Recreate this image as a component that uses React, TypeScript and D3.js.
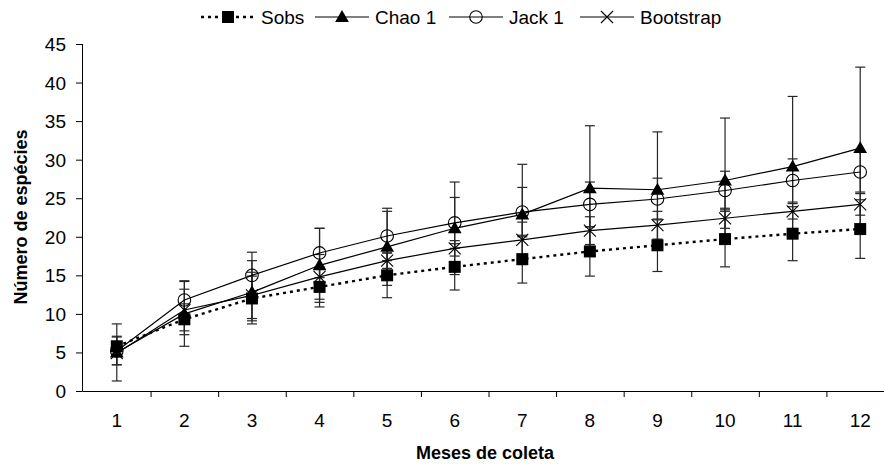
import React from "react";
import * as d3 from "d3";

// Sampling months (x categories)
const months = ["1", "2", "3", "4", "5", "6", "7", "8", "9", "10", "11", "12"];

// Observed richness and richness estimators, with their standard deviations
const sobs = [5.8, 9.3, 12.0, 13.5, 15.0, 16.1, 17.1, 18.1, 18.9, 19.7, 20.4, 21.0];
const sobsSd = [1.3, 2.0, 2.9, 2.6, 2.9, 3.0, 3.1, 3.2, 3.4, 3.6, 3.5, 3.8];

const chao1 = [5.0, 10.0, 12.8, 16.3, 18.7, 21.1, 22.9, 26.3, 26.1, 27.3, 29.1, 31.5];
const chao1Sd = [3.7, 4.2, 4.1, 4.8, 5.0, 6.0, 6.5, 8.1, 7.5, 8.1, 9.1, 10.5];

const jack1 = [5.2, 11.8, 15.0, 17.9, 20.1, 21.8, 23.2, 24.2, 24.9, 26.0, 27.3, 28.4];
const jack1Sd = [1.8, 2.5, 3.0, 3.2, 3.2, 3.3, 3.2, 2.9, 2.7, 2.5, 2.8, 2.6];

const bootstrap = [4.9, 10.5, 12.4, 14.8, 16.9, 18.5, 19.6, 20.8, 21.5, 22.4, 23.3, 24.2];
const bootstrapSd = [1.5, 2.7, 3.0, 2.9, 1.0, 1.0, 2.3, 1.8, 1.8, 1.3, 1.0, 1.4];

const yTicks = [0, 5, 10, 15, 20, 25, 30, 35, 40, 45];

const seriesNames = ["Sobs", "Chao 1", "Jack 1", "Bootstrap"];

type MarkerKind = "square" | "triangle" | "circle" | "cross";

const W = 884;
const H = 464;
const FONT = "'Liberation Sans', Arial, sans-serif";

const x = d3.scaleBand<string>().domain(months).range([83, 894]).paddingInner(0).paddingOuter(0);
const y = d3.scaleLinear().domain([0, 45]).range([391, 44]);
const cx = (m: string) => (x(m) as number) + x.bandwidth() / 2;

function Marker({ kind, px, py }: { kind: MarkerKind; px: number; py: number }) {
  if (kind === "square") {
    return <rect x={px - 6} y={py - 6} width={12} height={12} fill="#000" />;
  }
  if (kind === "triangle") {
    const tri = d3.symbol().type(d3.symbolTriangle).size(82)();
    return <path d={tri || ""} transform={`translate(${px},${py + 1})`} fill="#000" />;
  }
  if (kind === "circle") {
    return <circle cx={px} cy={py} r={6.3} fill="none" stroke="#000" strokeWidth={1.1} />;
  }
  return (
    <path
      d={`M${px - 6},${py - 6}L${px + 6},${py + 6}M${px - 6},${py + 6}L${px + 6},${py - 6}`}
      stroke="#000"
      strokeWidth={1.1}
      fill="none"
    />
  );
}

export default function App() {
  const series = [
    { name: seriesNames[0], values: sobs, sd: sobsSd, marker: "square" as MarkerKind, dash: "3 4", width: 2.4 },
    { name: seriesNames[1], values: chao1, sd: chao1Sd, marker: "triangle" as MarkerKind, dash: undefined, width: 1.2 },
    { name: seriesNames[2], values: jack1, sd: jack1Sd, marker: "circle" as MarkerKind, dash: undefined, width: 1.2 },
    { name: seriesNames[3], values: bootstrap, sd: bootstrapSd, marker: "cross" as MarkerKind, dash: undefined, width: 1.2 },
  ];

  const line = d3
    .line<number>()
    .x((_, i) => cx(months[i]))
    .y((v) => y(v));

  const legendX = [201, 315, 449, 580];
  const legendY = 17;

  const boundaries = d3.range(1, months.length).map((i) => (x(months[i]) as number));

  return (
    <svg
      width={W}
      height={H}
      style={{ position: "absolute", left: 0, top: 0, background: "#fff" }}
      fontFamily={FONT}
    >
      <rect x={0} y={0} width={W} height={H} fill="#fff" />

      {/* Legend */}
      {series.map((s, i) => {
        const x0 = legendX[i];
        return (
          <g key={s.name}>
            <line
              x1={x0}
              x2={x0 + 54}
              y1={legendY}
              y2={legendY}
              stroke="#000"
              strokeWidth={s.width}
              strokeDasharray={s.dash}
            />
            <Marker kind={s.marker} px={x0 + 27} py={legendY} />
            <text x={x0 + 60} y={legendY + 7} fontSize={19} fill="#000">
              {s.name}
            </text>
          </g>
        );
      })}

      {/* Y axis */}
      <line x1={82.5} x2={82.5} y1={y(45)} y2={y(0)} stroke="#000" strokeWidth={1} />
      {yTicks.map((t) => (
        <g key={t}>
          <line x1={76} x2={82.5} y1={y(t) + 0.5} y2={y(t) + 0.5} stroke="#000" strokeWidth={1} />
          <text x={66} y={y(t) + 7} fontSize={19} textAnchor="end" fill="#000">
            {t}
          </text>
        </g>
      ))}

      {/* X axis */}
      <line x1={82.5} x2={W} y1={y(0) + 0.5} y2={y(0) + 0.5} stroke="#000" strokeWidth={1} />
      {boundaries.map((b, i) => (
        <line key={i} x1={b + 0.5} x2={b + 0.5} y1={y(0)} y2={y(0) + 6} stroke="#000" strokeWidth={1} />
      ))}
      {months.map((m) => (
        <text key={m} x={cx(m)} y={427} fontSize={19} textAnchor="middle" fill="#000">
          {m}
        </text>
      ))}

      {/* Axis titles */}
      <text x={485} y={459} fontSize={18} fontWeight="bold" textAnchor="middle" fill="#000">
        Meses de coleta
      </text>
      <text
        transform={`translate(27,217) rotate(-90)`}
        fontSize={18}
        fontWeight="bold"
        textAnchor="middle"
        fill="#000"
      >
        Número de espécies
      </text>

      {/* Error bars */}
      {series.map((s) => (
        <g key={`err-${s.name}`} stroke="#262626" strokeWidth={1.2}>
          {s.values.map((v, i) => {
            const px = cx(months[i]);
            const top = y(v + s.sd[i]);
            const bot = y(v - s.sd[i]);
            return (
              <g key={i}>
                <line x1={px} x2={px} y1={top} y2={bot} />
                <line x1={px - 5} x2={px + 5} y1={top} y2={top} />
                <line x1={px - 5} x2={px + 5} y1={bot} y2={bot} />
              </g>
            );
          })}
        </g>
      ))}

      {/* Lines */}
      {series.map((s) => (
        <path
          key={`line-${s.name}`}
          d={line(s.values) || ""}
          fill="none"
          stroke="#000"
          strokeWidth={s.width}
          strokeDasharray={s.dash}
        />
      ))}

      {/* Markers */}
      {series.map((s) => (
        <g key={`mk-${s.name}`}>
          {s.values.map((v, i) => (
            <Marker key={i} kind={s.marker} px={cx(months[i])} py={y(v)} />
          ))}
        </g>
      ))}
    </svg>
  );
}
